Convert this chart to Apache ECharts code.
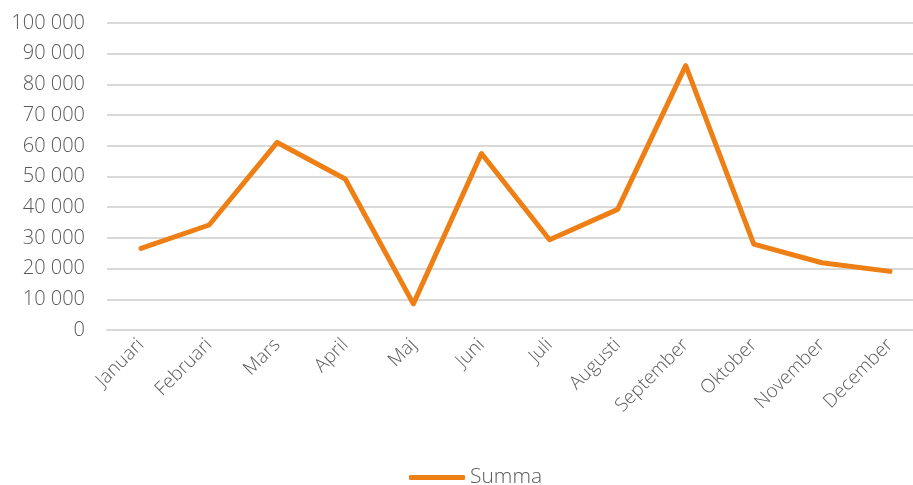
<!DOCTYPE html>
<html>
<head>
<meta charset="utf-8">
<script src="https://cdn.jsdelivr.net/npm/echarts@6/dist/echarts.min.js"></script>
<style>
  html, body { margin: 0; padding: 0; background: #fff; overflow: hidden; }
  #chart { width: 924px; height: 485px; }
</style>
</head>
<body>
<div id="chart"></div>
<script>
const months = ['Januari', 'Februari', 'Mars', 'April', 'Maj', 'Juni', 'Juli', 'Augusti', 'September', 'Oktober', 'November', 'December']
const summa = [26600, 34200, 61100, 49200, 8500, 57500, 29400, 39300, 86100, 28000, 21900, 19100]

const fontFam = '"Open Sans", "Noto Sans", sans-serif'
const grey = '#595959'

// 100000 -> "100 000"
const fmt = v => String(v).replace(/\B(?=(\d{3})+(?!\d))/g, ' ')

// plot area runs slightly past the right edge, like the original
const myChart = echarts.init(document.getElementById('chart'))
myChart.setOption({
    animation: false,
    grid: {
        left: 107,
        right: 0,
        top: 23,
        bottom: 155
    },
    legend: {
        top: 462,
        left: 404,
        itemWidth: 56,
        itemHeight: 5,
        itemGap: 4,
        icon: 'roundRect',
        textStyle: { color: grey, fontSize: 21, fontFamily: fontFam, fontWeight: 300 },
        data: ['Summa']
    },
    xAxis: {
        type: 'category',
        data: months,
        boundaryGap: true,
        axisLine: { lineStyle: { color: '#d9d9d9', width: 2 } },
        axisTick: { show: false },
        axisLabel: {
            rotate: 45,
            margin: 12,
            color: grey,
            fontSize: 19,
            fontFamily: fontFam,
            fontWeight: 300,
            interval: 0
        }
    },
    yAxis: {
        type: 'value',
        min: 0,
        max: 100000,
        interval: 10000,
        axisLine: { show: false },
        axisTick: { show: false },
        splitLine: { lineStyle: { color: '#d9d9d9', width: 2 } },
        axisLabel: {
            margin: 22,
            color: grey,
            fontSize: 20,
            fontFamily: fontFam,
            fontWeight: 300,
            formatter: fmt
        }
    },
    series: [
        {
            name: 'Summa',
            type: 'line',
            data: summa,
            symbol: 'none',
            lineStyle: { color: '#EE7F14', width: 5, cap: 'round', join: 'round' },
            itemStyle: { color: '#EE7F14' }
        }
    ]
})
</script>
</body>
</html>
